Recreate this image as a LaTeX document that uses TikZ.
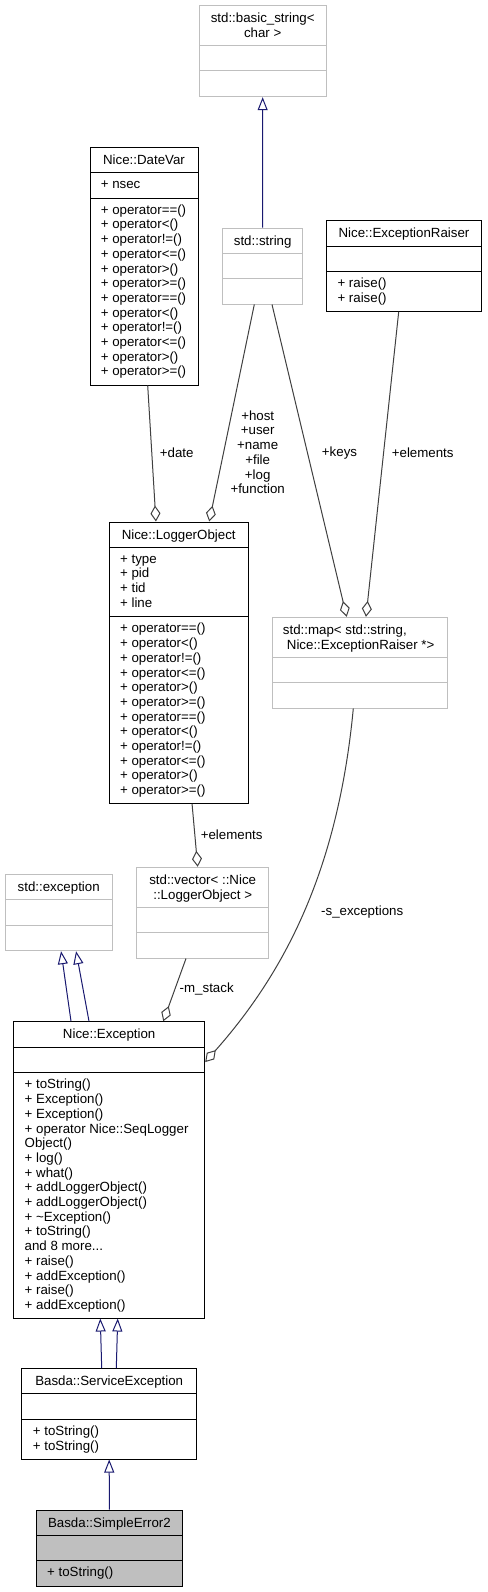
\documentclass[tikz,border=0pt]{standalone}
\usepackage{fontspec}
\setmainfont{Liberation Sans}
\usetikzlibrary{arrows.meta}

\definecolor{edgegray}{HTML}{404040}
\definecolor{boxgray}{HTML}{BFBFBF}
\definecolor{navyedge}{HTML}{191970}
\newcommand{\tstrut}{\rule{0pt}{10pt}}

\begin{document}
\begin{tikzpicture}[
        x=1pt,
        y=-1pt,
        font=\fontsize{13.3}{14.7}\selectfont,
        umlclass/.style={
            draw=black,
            fill=white,
            line width=1pt,
            inner sep=0pt,
        },
        umlclass-ext/.style={
            umlclass,
            draw=boxgray,
        },
        umlclass-focus/.style={
            umlclass,
            fill=boxgray,
        },
        class-title/.style={
            inner sep=0pt,
            anchor=north,
            align=center,
        },
        class-members/.style={
            inner sep=0pt,
            anchor=north west,
            align=left,
        },
        link-inherit/.style={
            navyedge,
            line width=1pt,
            -{Triangle[open, length=13pt, width=10pt]},
        },
        link-aggr/.style={
            edgegray,
            line width=1pt,
            -{Diamond[open, length=16pt, width=10pt]},
        },
        link-label/.style={
            inner sep=0pt,
            align=center,
        },
    ]

    \fill[white] (0,0) rectangle (487,1592);
    \useasboundingbox (0,0) rectangle (487,1592);

    % Class boxes with their two divider lines.
    \foreach \n/\s/\l/\t/\r/\b/\p/\q in {
        bstr/umlclass-ext/199.3/5.7/326/96.7/45.7/71,
        datevar/umlclass/90/147/198/385/172.7/198,
        str/umlclass-ext/222.7/228/302.7/304/253.3/278.7,
        exraiser/umlclass/326.7/220.7/481.3/311.3/246/271.3,
        logobj/umlclass/109.3/522/248/803.3/547/616.7,
        emap/umlclass-ext/272.7/617.3/447.3/708/657/682.7,
        lvec/umlclass-ext/136.7/867.3/268.7/958/907.3/932.7,
        stdexc/umlclass-ext/5/874.7/112.3/950.7/899.3/925.3,
        exc/umlclass/13.7/1021.7/204.7/1318/1047.3/1072.7,
        svcexc/umlclass/21.7/1368.7/196.7/1459/1393.7/1419.3,
        simple/umlclass-focus/36/1510/182.7/1586/1535.3/1560.7%
    } {
        \node[\s, minimum width={(\r-\l)*1pt}, minimum height={(\b-\t)*1pt}]
            (\n) at ({(\l+\r)/2},{(\t+\b)/2}) {};
        \draw[\s, fill=none] (\l,\p) -- (\r,\p) (\l,\q) -- (\r,\q);
    }

    % Class names.
    \node[class-title] (bstrT) at (262.7,12.7) {\tstrut std::basic\_string<\\char >};
    \node[class-title] (datevarT) at (144,154) {\tstrut Nice::DateVar};
    \node[class-title] (strT) at (262.7,235) {\tstrut std::string};
    \node[class-title] (exraiserT) at (404,227.7) {\tstrut Nice::ExceptionRaiser};
    \node[class-title] (logobjT) at (178.7,529) {\tstrut Nice::LoggerObject};
    \node[class-members] (emapT) at (282.7,624.3)
        {\tstrut std::map< std::string,\\\hspace*{4pt}Nice::ExceptionRaiser *>};
    \node[class-title] (lvecT) at (202.7,874.3) {\tstrut std::vector< ::Nice\\::LoggerObject >};
    \node[class-title] (stdexcT) at (58.7,881.7) {\tstrut std::exception};
    \node[class-title] (excT) at (109.2,1028.7) {\tstrut Nice::Exception};
    \node[class-title] (svcexcT) at (109.2,1375.7) {\tstrut Basda::ServiceException};
    \node[class-title] (simpleT) at (109.4,1517) {\tstrut Basda::SimpleError2};

    % Attributes and operations.
    \node[class-members] (datevarA) at (100.6,178.7) {\tstrut + nsec};
    \node[class-members] (datevarM) at (100.6,204) {\tstrut + operator==()\\+ operator<()\\+ operator!=()\\+ operator<=()\\+ operator>()\\+ operator>=()\\+ operator==()\\+ operator<()\\+ operator!=()\\+ operator<=()\\+ operator>()\\+ operator>=()};
    \node[class-members] (exraiserM) at (337.3,277.3) {\tstrut + raise()\\+ raise()};
    \node[class-members] (logobjA) at (119.9,553) {\tstrut + type\\+ pid\\+ tid\\+ line};
    \node[class-members] (logobjM) at (119.9,622.7) {\tstrut + operator==()\\+ operator<()\\+ operator!=()\\+ operator<=()\\+ operator>()\\+ operator>=()\\+ operator==()\\+ operator<()\\+ operator!=()\\+ operator<=()\\+ operator>()\\+ operator>=()};
    \node[class-members] (excM) at (24.5,1078.7) {\tstrut + toString()\\+ Exception()\\+ Exception()\\+ operator Nice::SeqLogger\\Object()\\+ log()\\+ what()\\+ addLoggerObject()\\+ addLoggerObject()\\+ \textasciitilde Exception()\\+ toString()\\and 8 more...\\+ raise()\\+ addException()\\+ raise()\\+ addException()};
    \node[class-members] (svcexcM) at (32.7,1425.3) {\tstrut + toString()\\+ toString()};
    \node[class-members] (simpleM) at (47,1566.7) {\tstrut + toString()};

    % Generalisations.
    \draw[link-inherit] (str.north) -- (bstr.south);
    \draw[link-inherit] ([xshift=-38.2pt]exc.north) -- ([xshift=2.4pt]stdexc.south);
    \draw[link-inherit] ([xshift=-20.2pt]exc.north) -- ([xshift=17.4pt]stdexc.south);
    \draw[link-inherit] ([xshift=-7.5pt]svcexc.north) -- ([xshift=-8.9pt]exc.south);
    \draw[link-inherit] ([xshift=7.1pt]svcexc.north) -- ([xshift=8.5pt]exc.south);
    \draw[link-inherit] (simple.north) -- (svcexc.south);

    % Aggregations.
    \draw[link-aggr] ([xshift=3.7pt]datevar.south) -- ([xshift=-22.7pt]logobj.north);
    \draw[link-aggr] ([xshift=-8.4pt]str.south) -- ([xshift=30.6pt]logobj.north);
    \draw[link-aggr] ([xshift=9.3pt]str.south) -- ([xshift=-13.3pt]emap.north);
    \draw[link-aggr] ([xshift=-5.3pt]exraiser.south) -- ([xshift=6pt]emap.north);
    \draw[link-aggr] ([xshift=13.4pt]logobj.south) -- ([xshift=-5pt]lvec.north);
    \draw[link-aggr] ([xshift=-16.7pt]lvec.south) -- ([xshift=54.1pt]exc.north);
    \draw[link-aggr] ([xshift=-6.7pt]emap.south)
        .. controls (338,870) and (285,972) .. ([yshift=107.8pt]exc.east);

    % Role names.
    \node[link-label] (lblDate) at (176.7,452.7) {+date};
    \node[link-label] (lblStr) at (257.7,452.2) {+host\\+user\\+name\\+file\\+log\\+function};
    \node[link-label] (lblKeys) at (339.5,452.7) {+keys};
    \node[link-label] (lblRaiser) at (422.7,452.7) {+elements};
    \node[link-label] (lblLog) at (231.7,834.7) {+elements};
    \node[link-label] (lblStack) at (206.7,988.7) {-m\_stack};
    \node[link-label] (lblExc) at (362.2,911.7) {-s\_exceptions};
\end{tikzpicture}
\end{document}
